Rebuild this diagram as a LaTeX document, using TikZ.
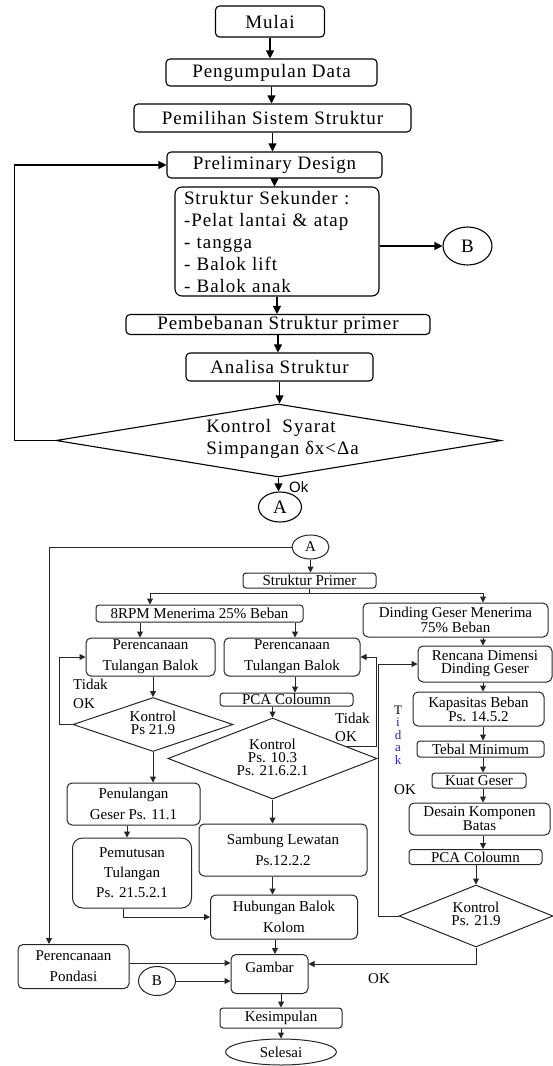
\documentclass[tikz,border=0pt]{standalone}
\usepackage{fontspec}
\setmainfont{Liberation Serif}
\newfontfamily\topfont[LetterSpace=5]{Liberation Serif}
\newfontfamily\okfont{Liberation Sans}
\usetikzlibrary{arrows.meta,shapes.geometric,calc}
\definecolor{tblue}{RGB}{40,40,150}
\begin{document}
\begin{tikzpicture}[x=1pt,y=-1pt,
  tf/.style={font=\topfont\fontsize{19}{22}\selectfont},
  tbox/.style={draw, line width=1.1pt, rounded corners=4pt, inner sep=0pt, tf},
  bf/.style={font=\fontsize{15}{21}\selectfont},
  bft/.style={font=\fontsize{15}{13}\selectfont},
  bbox/.style={draw=black!85, line width=1pt, rounded corners=5pt, inner sep=0pt, align=center},
  tarr/.style={line width=1.1pt, -{Triangle[length=8pt,width=8pt]}},
  barr/.style={draw=black!85, line width=1pt, -{Triangle[length=6pt,width=6pt]}},
  bline/.style={draw=black!85, line width=1pt},
  dia/.style={diamond, draw, inner sep=0pt},
  ell/.style={ellipse, draw, inner sep=0pt},
  lab/.style={font=\fontsize{15}{15}\selectfont, inner sep=0pt}
]
\useasboundingbox (0,0) rectangle (553,1066);

% ---------- top part ----------
\node[tbox, minimum width=109pt, minimum height=31pt] (mulai) at (270,21.5) {Mulai};
\node[tbox, minimum width=211pt, minimum height=27pt] (peng) at (271.5,72.5) {Pengumpulan Data};
\node[tbox, minimum width=277pt, minimum height=28pt] (pemi) at (272.5,118) {Pemilihan Sistem Struktur};
\node[tbox, minimum width=215pt, minimum height=26pt] (pre) at (274.5,165) {Preliminary Design};
\node[tbox, rounded corners=7pt, minimum width=204pt, minimum height=109pt, align=left, text width=186pt, inner xsep=9pt] (sek) at (277,241.5) {Struktur Sekunder :\\-Pelat lantai \& atap\\- tangga\\- Balok lift\\- Balok anak};
\node[ell, line width=1.1pt, minimum width=49pt, minimum height=38pt, tf] (b1) at (467.5,246) {B};
\node[tbox, minimum width=304pt, minimum height=20pt] (pemb) at (278,324.5) {Pembebanan Struktur primer};
\node[tbox, minimum width=187pt, minimum height=28pt] (ana) at (279.5,367) {Analisa Struktur};
\node[dia, line width=1.1pt, minimum width=445pt, minimum height=73pt,
  label={[tf, align=left, xshift=4pt, yshift=2pt]center:Kontrol\ \ Syarat\\Simpangan δx<Δa}] (k0) at (278.5,440.5) {};
\node[ell, line width=1.1pt, minimum width=43pt, minimum height=30pt, tf] (a1) at (280,507) {A};
\node[font=\okfont\fontsize{15}{15}\selectfont, anchor=west, inner sep=0pt] (ok0) at (289,487) {Ok};

\draw[tarr] (mulai.south) -- (mulai.south |- peng.north);
\draw[tarr] (peng.south) -- (peng.south |- pemi.north);
\draw[tarr] (pemi.south) -- (pemi.south |- pre.north);
\draw[tarr] (pre.south) -- (pre.south |- sek.north);
\draw[tarr] (sek.south) -- (sek.south |- pemb.north);
\draw[tarr] (pemb.south) -- (pemb.south |- ana.north);
\draw[tarr] (ana.south) -- (ana.south |- k0.north);
\draw[tarr] (sek.east |- b1.west) -- (b1.west);
\draw[tarr] (k0.west) -- ++(-41,0) |- (pre.west);
\draw[tarr] (k0.south) -- (k0.south |- a1.north);

% ---------- bottom part ----------
\node[ell, bline, minimum width=37pt, minimum height=24pt, bft] (a2) at (310.5,547) {A};
\node[bbox, bft, rounded corners=3pt, minimum width=133pt, minimum height=15pt] (sp) at (309.5,580.5) {Struktur Primer};
\node[bbox, bft, rounded corners=3pt, minimum width=207pt, minimum height=17pt] (rpm) at (199.5,613.5) {8RPM Menerima 25\% Beban};
\node[bbox, bft, minimum width=185pt, minimum height=34pt] (dg) at (455.5,620) {Dinding Geser Menerima\\75\% Beban};
\node[bbox, bf, minimum width=129pt, minimum height=38pt] (per1) at (150.5,657) {Perencanaan\\Tulangan Balok};
\node[bbox, bf, minimum width=136pt, minimum height=38pt] (per2) at (292,657) {Perencanaan\\Tulangan Balok};
\node[bbox, bft, minimum width=134pt, minimum height=36pt] (ren) at (485,664) {Rencana Dimensi\\Dinding Geser};
\node[bbox, bft, rounded corners=3pt, minimum width=133pt, minimum height=13pt] (pca1) at (286.5,699.5) {PCA Coloumn};
\node[dia, bline, minimum width=160pt, minimum height=54pt,
  label={[bft, align=center, yshift=1.5pt]center:Kontrol\\Ps 21.9}] (k1) at (153,724.5) {};
\node[dia, bline, minimum width=209pt, minimum height=81pt,
  label={[bft, align=center, yshift=1.5pt]center:Kontrol\\Ps. 10.3\\Ps. 21.6.2.1}] (k2) at (272.5,758.5) {};
\node[bbox, bft, minimum width=131pt, minimum height=34pt] (kap) at (478.5,709) {Kapasitas Beban\\Ps. 14.5.2};
\node[bbox, bft, rounded corners=3pt, minimum width=127pt, minimum height=16pt] (teb) at (480.5,749) {Tebal Minimum};
\node[bbox, bft, rounded corners=3pt, minimum width=94pt, minimum height=15pt] (kua) at (479,780.5) {Kuat Geser};
\node[bbox, bft, minimum width=141pt, minimum height=32pt] (des) at (479.5,819) {Desain Komponen\\Batas};
\node[bbox, bft, rounded corners=3pt, minimum width=133pt, minimum height=15pt] (pca2) at (475.5,857) {PCA Coloumn};
\node[dia, bline, minimum width=154pt, minimum height=62pt,
  label={[bft, align=center, yshift=2pt]center:Kontrol\\Ps. 21.9}] (k3) at (476,916) {};
\node[bbox, bf, minimum width=133pt, minimum height=42pt] (pen) at (133.5,804) {Penulangan\\Geser Ps. 11.1};
\node[bbox, font=\fontsize{15}{20}\selectfont, rounded corners=10pt, minimum width=119pt, minimum height=70pt] (pem) at (132,873) {Pemutusan\\Tulangan\\Ps. 21.5.2.1};
\node[bbox, bf, minimum width=168pt, minimum height=52pt] (sam) at (283,850) {Sambung Lewatan\\Ps.12.2.2};
\node[bbox, bf, minimum width=147pt, minimum height=44pt] (hub) at (284,917) {Hubungan Balok\\Kolom};
\node[bbox, bft, minimum width=77pt, minimum height=39pt, text height=11pt, text depth=14pt] (gam) at (269.5,974) {Gambar};
\node[bbox, bf, minimum width=111pt, minimum height=44pt] (pond) at (73.5,966.5) {Perencanaan\\Pondasi};
\node[ell, bline, bft, minimum width=37pt, minimum height=29pt] (b2) at (157,981) {B};
\node[bbox, bft, rounded corners=3pt, minimum width=122pt, minimum height=20pt] (kes) at (281,1018) {Kesimpulan};
\node[ell, bline, bft, minimum width=111pt, minimum height=26pt] (sel) at (281,1052) {Selesai};

% labels
\node[lab, anchor=west] (t1) at (73,684) {Tidak};
\node[lab, anchor=west] (o1) at (73,704) {OK};
\node[lab, anchor=west] (t2) at (335,718) {Tidak};
\node[lab, anchor=west] (o2) at (335,737) {OK};
\node[lab, align=center, font=\fontsize{13}{12.5}\selectfont] (t3) at (398,735) {T\\{\color{tblue}i}\\{\color{tblue}d}\\{\color{tblue}a}\\{\color{tblue}k}};
\node[lab] (o3) at (405,790) {OK};
\node[lab] (o4) at (379,979) {OK};

% connectors
\draw[barr] (a2.south) -- (a2.south |- sp.north);
\draw[barr] (a2.west) -| ([xshift=-24.5pt]pond.north);
\draw[bline] (sp.south) -- ++(0,5) coordinate (spl);
\draw[barr] (spl) -| ([xshift=-49.5pt]rpm.north);
\draw[barr] (spl) -| ([xshift=27.5pt]dg.north);
\draw[barr] ([xshift=-10.5pt]per1.north |- rpm.south) -- ([xshift=-10.5pt]per1.north);
\draw[barr] ([xshift=3pt]per2.north |- rpm.south) -- ([xshift=3pt]per2.north);

\draw[barr] (k1.north |- per1.south) -- (k1.north);
\draw[barr] (k1.west) -- ++(-13,0) |- (per1.west);
\draw[barr] (k1.south) -- (k1.south |- pen.north);
\draw[barr] ([xshift=-6.5pt]pen.south) -- ([xshift=-6.5pt]pen.south |- pem.north);
\draw[barr] ([xshift=-9pt]pem.south) |- (hub.west);

\draw[barr] ([xshift=3pt]per2.south) -- ([xshift=3pt]per2.south |- pca1.north);
\draw[barr] (k2.north |- pca1.south) -- (k2.north);
\draw[barr] ($(k2.north)!0.7!(k2.east)$) -| ([xshift=16pt]per2.east) -- (per2.east);
\draw[barr] (k2.south) -- (k2.south |- sam.north);
\draw[barr] (k2.south |- sam.south) -- (k2.south |- hub.north);
\draw[barr] ([xshift=-9pt]hub.south) -- ([xshift=-9pt]hub.south |- gam.north);
\draw[barr] (kes.north |- gam.south) -- (kes.north);
\draw[barr] (kes.south) -- (kes.south |- sel.north);

\draw[barr] ([xshift=27.5pt]dg.south) -- ([xshift=27.5pt]dg.south |- ren.north);
\draw[barr] ([xshift=-2pt]ren.south) -- ([xshift=-2pt]ren.south |- kap.north);
\draw[barr] ([xshift=4.5pt]kap.south) -- ([xshift=4.5pt]kap.south |- teb.north);
\draw[barr] ([xshift=2.5pt]teb.south) -- ([xshift=2.5pt]teb.south |- kua.north);
\draw[barr] ([xshift=4pt]kua.south) -- ([xshift=4pt]kua.south |- des.north);
\draw[barr] ([xshift=3.5pt]des.south) -- ([xshift=3.5pt]des.south |- pca2.north);
\draw[barr] (k3.north |- pca2.south) -- (k3.north);
\draw[barr] (k3.west) -- ++(-20,0) |- (ren.west);
\draw[barr] (k3.south) |- ([yshift=10pt]gam.east);
\draw[barr] ([yshift=3.5pt]pond.east) -- ([yshift=3.5pt]pond.east -| gam.west);
\draw[barr] (b2.east) -- (b2.east -| gam.west);
\end{tikzpicture}
\end{document}
